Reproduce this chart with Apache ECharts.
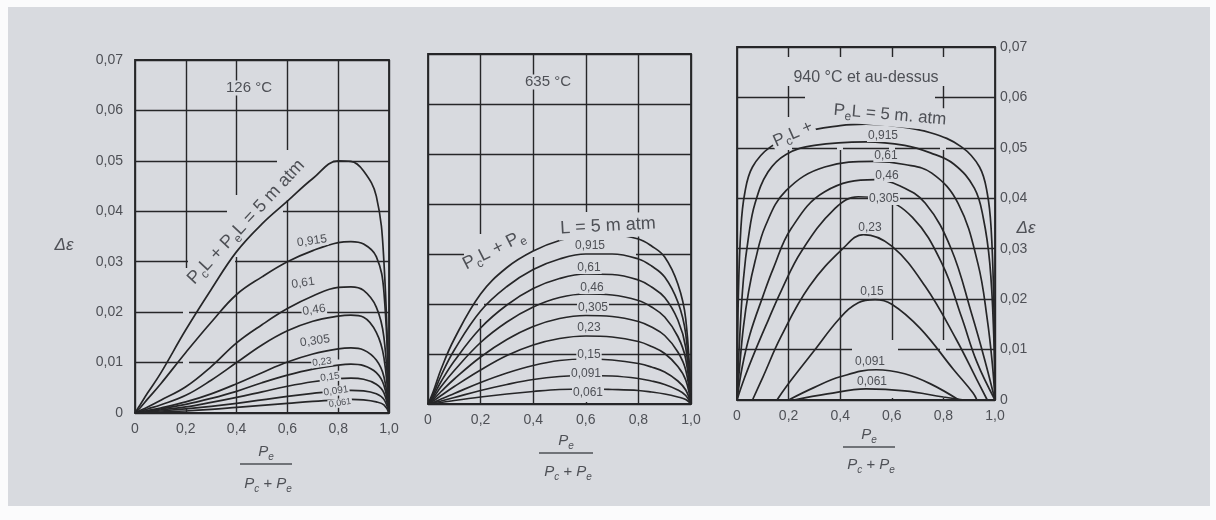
<!DOCTYPE html>
<html><head><meta charset="utf-8">
<script src="https://cdn.jsdelivr.net/npm/echarts@6/dist/echarts.min.js"></script>
<style>
html,body{margin:0;padding:0;background:#fbfbfc;}
#paper{position:absolute;left:8px;top:7px;width:1202px;height:499px;background:#d8dadf;}
#c{position:absolute;left:0;top:0;width:1216px;height:520px;}
</style>
</head><body><div id="paper"></div><div id="c"></div>
<script>
// ---------- data ----------
const curveNames = ['5', '0,915', '0,61', '0,46', '0,305', '0,23', '0,15', '0,091', '0,061'];
const xTickLabels = ['0', '0,2', '0,4', '0,6', '0,8', '1,0'];
const yTickLabels = ['0', '0,01', '0,02', '0,03', '0,04', '0,05', '0,06', '0,07'];
const panelTitles = ['126 °C', '635 °C', '940 °C et au-dessus'];

// panel 1 : 126 °C
const p1X = [0, .02, .05, .1, .2, .3, .4, .5, .6, .7, .8, .85, .9, .95, .98, 1];
const p1Y = [
  [0, .0016, .004, .0078, .0165, .0245, .032, .0375, .042, .0465, .050, .0499, .048, .043, .030, 0],
  [0, .001, .0028, .0057, .012, .018, .0235, .027, .030, .0322, .0338, .034, .0335, .031, .024, 0],
  [0, .0005, .0012, .0025, .0052, .0092, .0139, .0175, .0207, .0232, .0249, .025, .0243, .021, .015, 0],
  [0, .0003, .0008, .0016, .0035, .0065, .0100, .0135, .0163, .0182, .0192, .0194, .0190, .016, .011, 0],
  [0, .0002, .0005, .001, .0022, .0038, .0058, .0080, .0101, .0117, .0127, .0129, .0125, .0105, .0072, 0],
  [0, .00015, .0004, .0008, .0017, .0029, .0043, .0060, .0075, .0087, .0095, .0097, .0094, .0080, .0055, 0],
  [0, .0001, .0003, .0006, .0012, .0021, .0031, .0042, .0053, .0062, .0068, .0069, .0067, .0057, .0040, 0],
  [0, .0001, .0002, .0004, .0008, .0013, .0019, .0026, .0033, .0039, .0044, .0045, .0044, .0038, .0027, 0],
  [0, 0, .0001, .0002, .0004, .0007, .0011, .0015, .0019, .0023, .0026, .0027, .0026, .0022, .0016, 0]
];

// panel 2 : 635 °C
const p2X = [0, .02, .05, .1, .2, .3, .4, .5, .6, .7, .8, .85, .9, .95, .98, 1];
const p2Y = [
  [0, .0025, .0070, .0130, .0220, .0273, .0306, .0327, .0337, .0338, .0330, .0316, .0294, .0240, .0170, 0],
  [0, .0020, .0057, .0108, .0186, .0235, .0269, .0290, .0300, .0300, .0290, .0276, .0254, .0204, .0140, 0],
  [0, .0016, .0045, .0086, .0152, .0198, .0231, .0251, .0260, .0259, .0248, .0234, .0213, .0168, .0113, 0],
  [0, .0012, .0035, .0067, .0123, .0164, .0194, .0213, .0220, .0218, .0207, .0194, .0174, .0135, .0090, 0],
  [0, .0009, .0025, .0050, .0094, .0129, .0155, .0171, .0177, .0175, .0165, .0154, .0137, .0104, .0068, 0],
  [0, .0006, .0017, .0035, .0068, .0097, .0118, .0131, .0136, .0134, .0125, .0115, .0101, .0075, .0048, 0],
  [0, .0003, .0010, .0021, .0043, .0062, .0077, .0087, .0090, .0088, .0081, .0074, .0064, .0046, .0028, 0],
  [0, .0002, .0006, .0013, .0027, .0039, .0049, .0055, .0057, .0056, .0051, .0046, .0039, .0028, .0017, 0],
  [0, .0001, .0003, .0007, .0014, .0020, .0025, .0029, .0030, .0029, .0027, .0024, .0020, .0014, .0009, 0]
];

// panel 3 : 940 °C et au-dessus  ([x, y] pairs per curve)
const p3Pts = [
  [[0, 0], [.005, .02], [.015, .034], [.03, .041], [.06, .0462], [.13, .0502], [.25, .053], [.4, .0544], [.5, .0547], [.6, .0544], [.75, .053], [.87, .0502], [.94, .0462], [.97, .041], [.985, .034], [.995, .02], [1, 0]],
  [[0, 0], [.01, .012], [.025, .024], [.045, .0325], [.07, .0390], [.12, .0452], [.19, .0487], [.3, .0505], [.5, .0512], [.65, .0505], [.75, .0490], [.84, .0468], [.92, .0420], [.955, .0360], [.98, .027], [.995, .013], [1, 0]],
  [[0, 0], [.01, .0065], [.025, .0145], [.045, .0215], [.07, .0275], [.11, .0345], [.19, .0415], [.34, .0462], [.53, .0473], [.65, .0467], [.755, .0450], [.857, .0390], [.934, .0270], [.97, .016], [.99, .007], [1, 0]],
  [[0, 0], [.02, .0065], [.05, .0130], [.1, .0205], [.14, .0260], [.21, .0340], [.34, .0413], [.535, .0437], [.63, .0425], [.73, .0390], [.83, .0300], [.91, .0170], [.96, .0080], [1, 0]],
  [[0, 0], [.03, .0045], [.07, .0097], [.12, .0157], [.17, .0215], [.25, .0295], [.38, .0380], [.47, .0403], [.55, .0400], [.68, .0362], [.795, .0270], [.87, .0165], [.93, .0075], [1, 0]],
  [[.06, 0], [.1, .0045], [.17, .0125], [.28, .0225], [.41, .0300], [.49, .0328], [.6, .0305], [.73, .0225], [.85, .0120], [.93, .0040], [.97, 0]],
  [[.155, 0], [.19, .0026], [.295, .0095], [.40, .0163], [.47, .0193], [.535, .0199], [.6, .0190], [.71, .0142], [.84, .0060], [.915, .0014], [.93, 0]],
  [[.2, 0], [.3, .0025], [.4, .0046], [.54, .0060], [.65, .0052], [.75, .0032], [.86, 0]],
  [[.22, 0], [.35, .0012], [.5, .0022], [.65, .0018], [.8, .0006], [.88, 0]]
];

// ---------- styling / layout ----------
const INK = '#262628';
const TXT = '#4e5056';
const PAPER = '#d8dadf';
const FONT = '"Liberation Sans", "DejaVu Sans", sans-serif';

const gridBoxes = [
  { left: 135, top: 60, width: 254, height: 353 },
  { left: 428, top: 54, width: 263, height: 350 },
  { left: 737, top: 47, width: 258, height: 353 }
];

const chart = echarts.init(document.getElementById('c'), null, { renderer: 'canvas' });

const grid = gridBoxes.map(g => Object.assign({ show: true, borderColor: INK, borderWidth: 1.8, backgroundColor: 'transparent', containLabel: false }, g));

const xAxis = gridBoxes.map((g, i) => ({
  type: 'value', gridIndex: i, min: 0, max: 1, interval: 0.2,
  axisLine: { show: false }, axisTick: { show: false },
  axisLabel: { color: TXT, fontSize: 14, fontFamily: FONT, margin: 9, formatter: v => xTickLabels[Math.round(v / 0.2)] },
  splitLine: { show: true, lineStyle: { color: INK, width: 1.4 } }
}));

const yAxis = gridBoxes.map((g, i) => ({
  type: 'value', gridIndex: i, min: 0, max: 0.07, interval: 0.01,
  position: i === 2 ? 'right' : 'left',
  axisLine: { show: false }, axisTick: { show: false },
  axisLabel: { show: i !== 1, color: TXT, fontSize: 14, fontFamily: FONT, margin: i === 2 ? 5 : 12, formatter: v => yTickLabels[Math.round(v / 0.01)] },
  splitLine: { show: true, lineStyle: { color: INK, width: 1.4 } }
}));

function mkLine(gi, name, data) {
  return {
    type: 'line', name: name, xAxisIndex: gi, yAxisIndex: gi, data: data,
    symbol: 'none', smooth: 0.4, silent: true, z: 3, clip: true,
    lineStyle: { color: INK, width: 1.7 }, animation: false
  };
}

const series = [];
curveNames.forEach((n, j) => series.push(mkLine(0, n, p1X.map((x, k) => [x, p1Y[j][k]]))));
curveNames.forEach((n, j) => series.push(mkLine(1, n, p2X.map((x, k) => [x, p2Y[j][k]]))));
curveNames.forEach((n, j) => series.push(mkLine(2, n, p3Pts[j])));

// ---------- annotation texts ----------
function mkRich(sz) {
  return {
    n: { fontSize: sz, fontFamily: FONT, fill: TXT, verticalAlign: 'middle', lineHeight: sz + 6 },
    s: { fontSize: Math.round(sz * 0.68), fontFamily: FONT, fill: TXT, verticalAlign: 'bottom', lineHeight: sz + 6 },
    i: { fontSize: sz, fontFamily: FONT, fontStyle: 'italic', fill: TXT, verticalAlign: 'middle', lineHeight: sz + 6 },
    is: { fontSize: Math.round(sz * 0.68), fontFamily: FONT, fontStyle: 'italic', fill: TXT, verticalAlign: 'bottom', lineHeight: sz + 6 }
  };
}
function txt(text, x, y, opt) {
  opt = opt || {};
  const sz = opt.size || 13;
  return {
    type: 'text', x: x, y: y, z: 20, silent: true,
    rotation: (opt.rot || 0) * Math.PI / 180,
    style: {
      text: text, x: 0, y: 0, align: 'center', verticalAlign: 'middle',
      fill: opt.color || TXT,
      font: (opt.italic ? 'italic ' : '') + sz + 'px ' + FONT,
      rich: mkRich(sz),
      backgroundColor: opt.bg === false ? null : PAPER,
      padding: opt.pad || [0, 2, 0, 2]
    }
  };
}
// paper-coloured masks that reproduce the interrupted grid lines of the drawing
const gridGaps = [
  [277, 158, 56, 6], [227, 208, 56, 6], [188, 259, 47, 6], [233.5, 195, 6, 62], [284.5, 150, 6, 50],
  [183, 268, 6, 140], [318, 359.5, 66, 6],
  [464, 251, 172, 6], [583, 212, 6, 190], [478, 234, 6, 85],
  [786, 57, 6, 29], [786, 117, 6, 33], [837, 57, 6, 93], [889, 57, 6, 143], [889, 340, 6, 58],
  [940, 57, 6, 29], [940, 117, 6, 33], [940, 340, 6, 58], [805, 94.5, 130, 6], [852, 346.5, 46, 6]
];
const graphics = gridGaps.map(r => ({
  type: 'rect', z: 1, silent: true, shape: { x: r[0], y: r[1], width: r[2], height: r[3] }, style: { fill: PAPER }
}));
graphics.push(
  txt(panelTitles[0], 249, 88, { size: 15 }),
  txt(panelTitles[1], 548, 82, { size: 15 }),
  txt(panelTitles[2], 866, 78, { size: 16 }),
  // total path length labels
  txt('{n|P}{s|c}{n|L + }{n|P}{s|e}{n|L = 5 m atm}', 246, 222, { rot: 47, size: 18, bg: false }),
  txt('{n|P}{s|c}{n|L + }{n|P}{s|e}', 494, 250, { rot: 27, size: 18, bg: false }),
  txt('{n|L = 5 m atm}', 608, 226, { rot: 3, size: 18 }),
  txt('{n|P}{s|c}{n|L +}', 793, 134, { rot: 24, size: 17 }),
  txt('{n|P}{s|e}{n|L = 5 m. atm}', 890, 115, { rot: -5, size: 17 }),
  // axis names
  txt('Δε', 64, 245, { size: 17, italic: true, bg: false }),
  txt('Δε', 1026, 228, { size: 17, italic: true, bg: false })
);
const p1Lab = [[312, 241, 12], [303, 283, 12], [314, 310, 12], [315, 341, 12], [322, 362, 10], [330, 377, 10], [336, 391, 10], [340, 403, 9]];
const p2Lab = [[590, 246], [589, 268], [592, 288], [593, 308], [589, 328], [589, 355], [586, 374], [588, 393]];
const p3Lab = [[883, 136], [886, 156], [887, 176], [884, 199], [870, 228], [872, 292], [870, 362], [872, 382]];
curveNames.slice(1).forEach((n, j) => {
  graphics.push(txt(n, p1Lab[j][0], p1Lab[j][1], { rot: 8, size: p1Lab[j][2], pad: [0, 1, 0, 1] }));
  graphics.push(txt(n, p2Lab[j][0], p2Lab[j][1], { size: 12, pad: [0, 1, 0, 1] }));
  graphics.push(txt(n, p3Lab[j][0], p3Lab[j][1], { size: 12, pad: [0, 1, 0, 1] }));
});
// x-axis fraction names  Pe / (Pc + Pe)
const fracs = [[266, 452, 464, 484, 26], [566, 441, 453, 472, 27], [869, 435, 447, 465, 26]];
fracs.forEach(f => {
  graphics.push(txt('{i|P}{is|e}', f[0], f[1], { bg: false, size: 15 }));
  graphics.push({ type: 'line', z: 20, silent: true, shape: { x1: f[0] - f[4], y1: f[2], x2: f[0] + f[4], y2: f[2] }, style: { stroke: TXT, lineWidth: 1.6 } });
  graphics.push(txt('{i|P}{is|c}{i| + P}{is|e}', f[0] + 2, f[3], { bg: false, size: 15 }));
});

chart.setOption({
  backgroundColor: 'transparent',
  animation: false,
  grid: grid, xAxis: xAxis, yAxis: yAxis, series: series,
  graphic: { elements: graphics }
});
</script>
</body></html>
